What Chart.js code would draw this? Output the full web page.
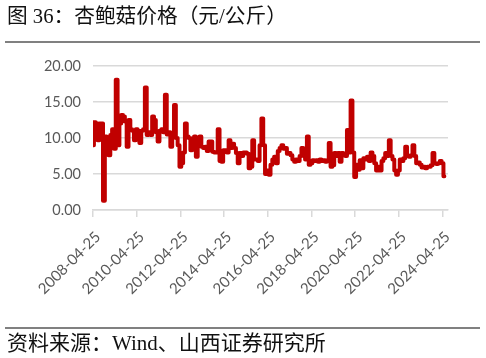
<!DOCTYPE html>
<html>
<head>
<meta charset="utf-8">
<script src="https://cdn.jsdelivr.net/npm/chart.js@4"></script>
<style>
  html, body { margin: 0; padding: 0; background: #fff; }
  body { width: 486px; height: 358px; position: relative; overflow: hidden; }
  #title { position: absolute; left: 7px; top: 3px; font-size: 20.7px; line-height: 26px;
           font-family: "Liberation Serif", "Noto Sans CJK SC", serif; color: #111; white-space: nowrap; }
  #rule1 { position: absolute; left: 5px; top: 41px; width: 475px; height: 2px; background: #808080; }
  #rule2 { position: absolute; left: 5px; top: 327px; width: 475px; height: 2px; background: #808080; }
  #source { position: absolute; left: 7px; top: 330px; font-size: 21px; line-height: 26px;
            font-family: "Liberation Serif", "Noto Sans CJK SC", serif; color: #111; white-space: nowrap; }
  #wrap { position: absolute; left: 0; top: 0; width: 486px; height: 358px; }
</style>
</head>
<body>
<div id="wrap"><canvas id="c" width="486" height="358"></canvas></div>
<div id="title">图 36：杏鲍菇价格（元/公斤）</div>
<div id="rule1"></div>
<div id="rule2"></div>
<div id="source">资料来源：Wind、山西证券研究所</div>
<script>
// Tick labels (every 24 months starting 2008-04)
const tickLabels = ['2008-04-25','2010-04-25','2012-04-25','2014-04-25','2016-04-25',
                    '2018-04-25','2020-04-25','2022-04-25','2024-04-25'];
const seriesName = '杏鲍菇价格';
// Approximate monthly prices (元/公斤), starting 2008-04
const prices = [
  9.0, 12.2, 12.0, 9.7, 12.0, 12.0, 1.3, 10.2, 10.0, 7.6,
  10.4, 11.2, 8.5, 18.1, 9.0, 12.0, 13.2, 13.0, 12.3, 8.8,
  12.5, 11.2, 11.0, 9.7, 11.2, 11.0, 9.3, 11.0, 11.2, 17.0,
  10.4, 10.8, 10.4, 13.0, 12.5, 10.8, 9.5, 11.0, 11.2, 10.8,
  16.0, 10.5, 10.8, 8.8, 10.5, 14.6, 10.0, 9.0, 6.0, 6.5,
  8.0, 12.0, 10.2, 10.0, 8.3, 8.5, 10.2, 7.4, 10.0, 10.2,
  8.8, 8.6, 8.8, 8.2, 9.5, 9.5, 8.1, 8.0, 8.0, 11.2,
  6.8, 6.7, 8.3, 8.3, 8.0, 9.7, 8.6, 9.2, 8.6, 7.9,
  6.5, 7.9, 7.5, 8.0, 8.0, 7.8, 5.8, 6.0, 9.7, 7.0,
  7.0, 6.8, 9.0, 12.7, 9.0, 5.0, 5.5, 4.9, 6.3, 7.0,
  7.4, 6.5, 8.2, 8.6, 9.0, 8.5, 8.6, 7.8, 7.9, 7.6,
  7.0, 6.7, 7.0, 6.8, 7.5, 8.6, 7.5, 7.0, 10.2, 6.3,
  6.5, 6.9, 6.8, 6.9, 6.7, 7.0, 6.8, 6.9, 6.7, 6.9,
  9.3, 6.0, 6.2, 7.9, 7.5, 7.9, 6.7, 7.9, 7.8, 7.5,
  11.1, 8.0, 15.2, 8.0, 4.6, 6.3, 5.6, 6.9, 5.8, 7.2,
  7.0, 7.4, 6.8, 8.0, 7.5, 6.5, 5.5, 6.0, 5.5, 6.8,
  7.2, 7.9, 7.5, 9.7, 7.5, 7.0, 5.5, 4.9, 5.5, 7.0,
  6.8, 7.2, 8.8, 7.5, 7.4, 7.6, 9.0, 7.5, 6.5, 6.6,
  6.3, 5.9, 6.0, 5.8, 6.0, 6.0, 6.2, 7.9, 6.5, 6.4,
  6.5, 6.8, 6.5, 4.7
];
const yTicks = [0, 5, 10, 15, 20];

const points = prices.map((v, i) => ({ x: i, y: v }));
const textColor = '#595959';
const gridColor = '#d9d9d9';

new Chart(document.getElementById('c'), {
  type: 'line',
  data: {
    datasets: [{
      label: seriesName,
      data: points,
      borderColor: '#c00000',
      backgroundColor: '#c00000',
      borderWidth: 4,
      pointRadius: 0,
      stepped: 'middle',
      borderJoinStyle: 'round',
      borderCapStyle: 'round'
    }]
  },
  options: {
    responsive: false,
    animation: false,
    devicePixelRatio: 1,
    layout: { padding: { left: 0, right: 38, top: 66, bottom: 0 } },
    plugins: { legend: { display: false }, tooltip: { enabled: false }, title: { display: false } },
    scales: {
      x: {
        type: 'linear',
        min: 0,
        max: 195,
        afterFit: (s) => { s.height = 148; },
        afterBuildTicks: (s) => { s.ticks = tickLabels.map((_, k) => ({ value: k * 24 })); },
        ticks: {
          autoSkip: false,
          includeBounds: false,
          minRotation: 45,
          maxRotation: 45,
          color: textColor,
          font: { family: 'Lato', size: 15 },
          padding: 11,
          labelOffset: 5,
          callback: (v) => tickLabels[Math.round(v / 24)]
        },
        grid: { drawOnChartArea: false, drawTicks: true, tickLength: 7, color: gridColor, lineWidth: 1.5 },
        border: { display: true, color: gridColor, width: 1.5 }
      },
      y: {
        min: 0,
        max: 20,
        afterFit: (s) => { s.width = 93; },
        afterBuildTicks: (s) => { s.ticks = yTicks.map(v => ({ value: v })); },
        ticks: {
          color: textColor,
          font: { family: 'Lato', size: 14.5 },
          padding: 12,
          callback: (v) => Number(v).toFixed(2)
        },
        grid: { drawTicks: false, color: gridColor, lineWidth: 1.5 },
        border: { display: false }
      }
    }
  }
});
</script>
</body>
</html>
